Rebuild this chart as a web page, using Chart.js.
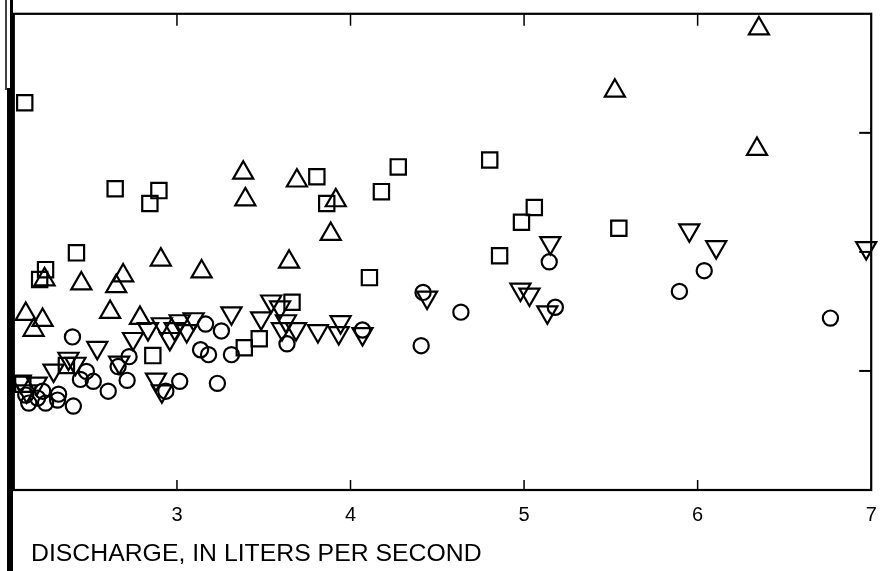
<!DOCTYPE html>
<html>
<head>
<meta charset="utf-8">
<script src="https://cdn.jsdelivr.net/npm/chart.js@4.4.1/dist/chart.umd.min.js"></script>
<style>
  html, body { margin: 0; padding: 0; background: #fff; }
  #wrap { width: 885px; height: 571px; }
</style>
</head>
<body>
<div id="wrap"><canvas id="scatterChart" width="885" height="571"></canvas></div>
<script>
// discharge (L/s) vs. measured value, four groups of samples
const circles = [
    [2.398, 1.286], [2.403, 0.705], [2.312, 0.755], [2.604, 0.830], [2.518, 0.913],
    [2.661, 1.037], [2.724, 1.120], [2.713, 0.921], [3.016, 0.913], [2.936, 0.830],
    [3.233, 0.896], [3.165, 1.394], [3.182, 1.137], [3.136, 1.178], [3.256, 1.336],
    [3.314, 1.137], [3.634, 1.228], [2.226, 0.830], [2.197, 0.772], [2.243, 0.730],
    [2.129, 0.797], [2.146, 0.730], [2.318, 0.805], [2.444, 0.929], [2.478, 0.996],
    [5.145, 1.917], [4.418, 1.660], [4.636, 1.494], [5.180, 1.535], [4.407, 1.212],
    [4.069, 1.344], [6.038, 1.842], [5.895, 1.668], [6.765, 1.444]
];
const triangles = [
    [6.353, 3.876], [5.523, 3.353], [6.342, 2.863], [3.382, 2.664], [3.394, 2.440],
    [3.691, 2.598], [3.915, 2.432], [3.886, 2.149], [3.646, 1.917], [2.907, 1.934],
    [3.142, 1.834], [2.690, 1.801], [2.650, 1.710], [2.449, 1.734], [2.237, 1.768],
    [2.129, 1.477], [2.226, 1.427], [2.174, 1.344], [2.615, 1.494], [2.787, 1.444]
];
const squares = [
    [2.123, 3.253], [2.644, 2.531], [2.896, 2.515], [2.844, 2.407], [2.421, 1.992],
    [2.243, 1.851], [2.209, 1.768], [3.806, 2.631], [3.863, 2.407], [4.275, 2.714],
    [4.178, 2.506], [4.109, 1.784], [4.802, 2.772], [5.059, 2.373], [4.985, 2.249],
    [4.859, 1.967], [5.546, 2.199], [3.663, 1.577], [3.474, 1.270], [3.388, 1.195],
    [2.861, 1.129], [2.363, 1.046], [2.112, 0.888]
];
const invTriangles = [
    [5.952, 2.183], [6.107, 2.041], [6.971, 2.033], [5.151, 2.075], [4.979, 1.685],
    [5.031, 1.643], [5.134, 1.494], [4.441, 1.618], [3.812, 1.336], [3.943, 1.411],
    [3.932, 1.320], [4.069, 1.311], [3.543, 1.585], [3.594, 1.535], [3.314, 1.485],
    [3.096, 1.436], [3.485, 1.444], [3.628, 1.419], [3.686, 1.353], [3.605, 1.353],
    [3.056, 1.336], [2.541, 1.195], [2.879, 0.929], [2.913, 0.830], [3.016, 1.419],
    [2.747, 1.270], [2.833, 1.353], [2.913, 1.394], [2.959, 1.270], [2.987, 1.353],
    [2.667, 1.071], [2.289, 1.004], [2.375, 1.104], [2.415, 1.062], [2.100, 0.913],
    [2.192, 0.896], [2.134, 0.830]
];

const xTicks = [3, 4, 5, 6, 7];
const xInnerTicks = [3, 4, 5, 6];
const yTicks = [1, 2, 3];
const xTitle = 'DISCHARGE, IN LITERS PER SECOND';

document.addEventListener('DOMContentLoaded', function () {
    const ctx = document.getElementById('scatterChart').getContext('2d');

    const toPoints = pairs => pairs.map(p => ({ x: p[0], y: p[1] }));
    const series = (label, pairs, style, radius, rotation) => ({
        label,
        data: toPoints(pairs),
        pointStyle: style,
        pointRadius: radius,
        pointRotation: rotation,
        pointBorderColor: '#000',
        pointBackgroundColor: 'rgba(0,0,0,0)',
        pointBorderWidth: 2.2,
        showLine: false,
        clip: false
    });

    // frame, inward ticks, labels and the dark scan edge on the left
    const framePlugin = {
        id: 'frame',
        afterDraw(chart) {
            const { ctx, chartArea: { left, right, top, bottom }, scales: { x, y } } = chart;
            ctx.save();
            ctx.strokeStyle = '#000';
            ctx.lineWidth = 2.2;
            ctx.strokeRect(left, top, right - left, bottom - top);

            ctx.lineWidth = 1.5;
            xInnerTicks.forEach(v => {
                const px = x.getPixelForValue(v);
                ctx.beginPath();
                ctx.moveTo(px, bottom); ctx.lineTo(px, bottom - 10);
                ctx.moveTo(px, top); ctx.lineTo(px, top + 12);
                ctx.stroke();
            });
            ctx.lineWidth = 2;
            yTicks.forEach(v => {
                const py = y.getPixelForValue(v);
                ctx.beginPath();
                ctx.moveTo(right, py); ctx.lineTo(right - 12, py);
                ctx.stroke();
            });

            ctx.fillStyle = '#000';
            ctx.font = '20px "Liberation Sans", Arial, sans-serif';
            ctx.textAlign = 'center';
            ctx.textBaseline = 'alphabetic';
            xTicks.forEach(v => {
                ctx.fillText(String(v), Math.min(x.getPixelForValue(v), 876), 521);
            });

            ctx.textAlign = 'left';
            ctx.font = '24.8px "Liberation Sans", Arial, sans-serif';
            ctx.fillText(xTitle, 31, 561);

            // scanned binding edge
            ctx.fillRect(7, 88, 6, 483);
            ctx.lineWidth = 1.5;
            ctx.beginPath();
            ctx.moveTo(6, 0); ctx.lineTo(6, 90);
            ctx.stroke();
            ctx.lineWidth = 3;
            ctx.beginPath();
            ctx.moveTo(11.5, 0); ctx.lineTo(11.5, 90);
            ctx.stroke();
            ctx.restore();
        }
    };

    new Chart(ctx, {
        type: 'scatter',
        data: {
            datasets: [
                series('Circles', circles, 'circle', 7.6, 0),
                series('Triangles', triangles, 'triangle', 11.6, 0),
                series('Squares', squares, 'rect', 10.8, 0),
                series('Inverted triangles', invTriangles, 'triangle', 11.6, 180)
            ]
        },
        options: {
            responsive: false,
            animation: false,
            events: [],
            layout: { padding: { left: 13, right: 9, top: 8, bottom: 81 } },
            scales: {
                x: { type: 'linear', min: 2.06, max: 7, display: false },
                y: { type: 'linear', min: 0, max: 4, display: false }
            },
            plugins: {
                legend: { display: false },
                tooltip: { enabled: false }
            }
        },
        plugins: [framePlugin]
    });
});
</script>
</body>
</html>
